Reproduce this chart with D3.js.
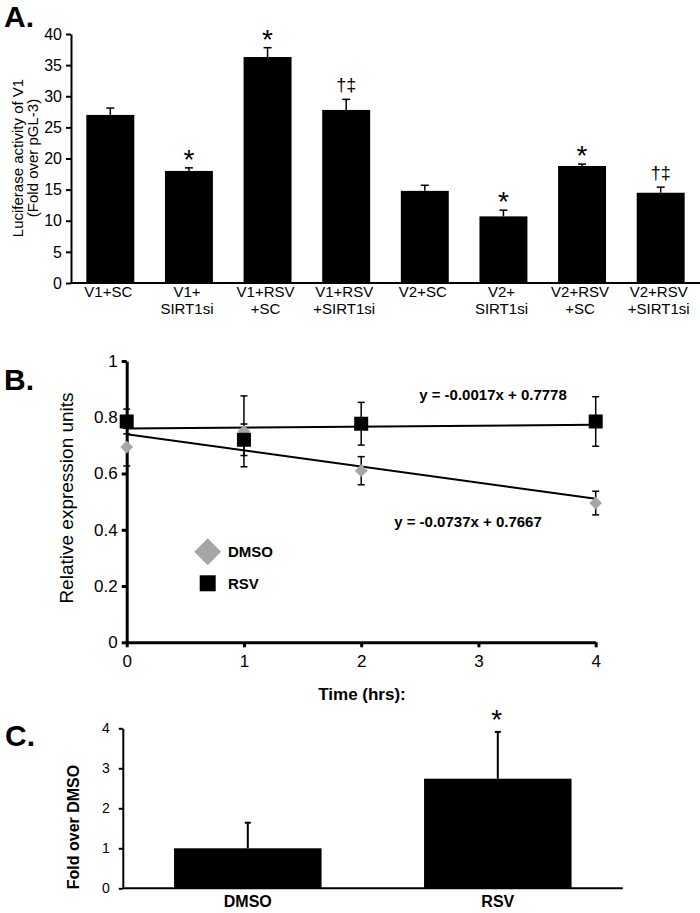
<!DOCTYPE html>
<html><head><meta charset="utf-8">
<script src="https://cdn.jsdelivr.net/npm/d3@7/dist/d3.min.js"></script>
<style>body{margin:0;background:#fff}svg{display:block}text{font-family:"Liberation Sans",Arial,sans-serif;fill:#000}</style>
</head><body><svg id="c" width="700" height="913"></svg>
<script>
// ---- Panel A data ----
const labelsA = [["V1+SC"],["V1+","SIRT1si"],["V1+RSV","+SC"],["V1+RSV","+SIRT1si"],["V2+SC"],["V2+","SIRT1si"],["V2+RSV","+SC"],["V2+RSV","+SIRT1si"]];
const valuesA = [27.0, 18.0, 36.3, 27.8, 14.8, 10.7, 18.8, 14.5];
const errorsA = [1.1, 0.5, 1.5, 1.7, 0.9, 1.0, 0.3, 0.9];
const marksA = ["", "*", "*", "\u2020\u2021", "", "*", "*", "\u2020\u2021"];
const ticksA = [0,5,10,15,20,25,30,35,40];
// ---- Panel B data ----
const timesB = [0,1,2,4];
const dmsoB = [0.694, 0.75, 0.61, 0.495];
const dmsoErrB = [0.067, 0.126, 0.05, 0.042];
const rsvB = [0.785, 0.72, 0.777, 0.785];
const rsvErrB = [0.044, 0.056, 0.076, 0.088];
const dmsoTrend = [0.74, 0.51];
const rsvTrend = [0.76, 0.773];
const trendX = [0, 4];
const eqRSV = "y = -0.0017x + 0.7778";
const eqDMSO = "y = -0.0737x + 0.7667";
const ticksBy = [0,0.2,0.4,0.6,0.8,1];
const ticksBx = [0,1,2,3,4];
// ---- Panel C data ----
const catsC = ["DMSO","RSV"];
const valuesC = [1.0, 2.74];
const errorsC = [0.64, 1.17];
const marksC = ["", "*"];
const ticksC = [0,1,2,3,4];

const svg = d3.select("#c");
svg.append("rect").attr("width",700).attr("height",913).attr("fill","#fff");
const grey = "#a6a6a6";

function styleAxis(g, w){
  g.selectAll("path.domain").attr("stroke","#000").attr("stroke-width",w);
  g.selectAll(".tick line").attr("stroke","#000").attr("stroke-width",w);
}

// ================= Panel A =================
{
  const x = d3.scaleBand().domain(d3.range(labelsA.length)).range([71,700]).paddingInner(0.39).paddingOuter(0.195);
  const y = d3.scaleLinear().domain([0,40]).range([283,34]);
  const g = svg.append("g");
  g.append("text").attr("x",4).attr("y",27).attr("font-size",30).attr("font-weight","bold").text("A.");
  g.selectAll("rect.bar").data(valuesA).join("rect")
    .attr("x",(d,i)=>x(i)).attr("width",x.bandwidth())
    .attr("y",d=>y(d)).attr("height",d=>y(0)-y(d)).attr("fill","#000");
  valuesA.forEach((v,i)=>{
    const cx = x(i)+x.bandwidth()/2;
    g.append("line").attr("x1",cx).attr("x2",cx).attr("y1",y(v)).attr("y2",y(v+errorsA[i])).attr("stroke","#000").attr("stroke-width",1.5);
    g.append("line").attr("x1",cx-4).attr("x2",cx+4).attr("y1",y(v+errorsA[i])).attr("y2",y(v+errorsA[i])).attr("stroke","#000").attr("stroke-width",1.5);
    if(marksA[i]==="*"){
      g.append("text").attr("x",cx).attr("y",y(v+errorsA[i])+1).attr("text-anchor","middle").attr("font-size",28).text("*");
    } else if(marksA[i]){
      g.append("text").attr("x",cx).attr("y",y(v+errorsA[i])-8).attr("text-anchor","middle").attr("font-size",18).text(marksA[i]);
    }
  });
  const ya = g.append("g").attr("transform","translate(71,0)")
    .call(d3.axisLeft(y).tickValues(ticksA).tickSize(5).tickSizeOuter(0).tickFormat(d3.format("d")));
  styleAxis(ya,2);
  ya.selectAll("text").attr("font-size",16).attr("font-family","Liberation Sans, Arial, sans-serif").attr("dx",-1);
  g.append("line").attr("x1",71).attr("x2",700).attr("y1",283).attr("y2",283).attr("stroke","#000").attr("stroke-width",2);
  labelsA.forEach((ls,i)=>{
    const cx = x(i)+x.bandwidth()/2;
    ls.forEach((l,j)=>{
      g.append("text").attr("x",cx-2).attr("y",297+j*17).attr("text-anchor","middle").attr("font-size",15).text(l);
    });
  });
  const yl = g.append("text").attr("transform","translate(0,158) rotate(-90)").attr("text-anchor","middle").attr("font-size",15);
  yl.append("tspan").attr("x",0).attr("y",23).text("Luciferase activity of V1");
  yl.append("tspan").attr("x",0).attr("y",38).text("(Fold over pGL-3)");
}

// ================= Panel B =================
{
  const x = d3.scaleLinear().domain([0,4]).range([126.7,595.7]);
  const y = d3.scaleLinear().domain([0,1]).range([642.3,361]);
  const g = svg.append("g");
  g.append("text").attr("x",4).attr("y",390).attr("font-size",30).attr("font-weight","bold").text("B.");
  const ya = g.append("g").attr("transform","translate(126.7,0)")
    .call(d3.axisLeft(y).tickValues(ticksBy).tickSize(5).tickSizeOuter(0).tickFormat(d=>d3.format("")(d)));
  styleAxis(ya,3);
  ya.selectAll("text").attr("font-size",17).attr("font-family","Liberation Sans, Arial, sans-serif").attr("dx",-1);
  const xa = g.append("g").attr("transform","translate(0,642.3)")
    .call(d3.axisBottom(x).tickValues(ticksBx).tickSize(5).tickSizeOuter(0).tickFormat(d3.format("d")));
  styleAxis(xa,3);
  xa.selectAll("text").attr("font-size",17).attr("font-family","Liberation Sans, Arial, sans-serif").attr("dy","1em");
  g.append("text").attr("x",362).attr("y",700).attr("text-anchor","middle").attr("font-size",17).attr("font-weight","bold").text("Time (hrs):");
  g.append("text").attr("transform","translate(73,498) rotate(-90)").attr("text-anchor","middle").attr("font-size",19).text("Relative expression units");
  const line = d3.line().x(d=>x(d[0])).y(d=>y(d[1]));
  g.append("path").attr("d",line(trendX.map((t,i)=>[t,rsvTrend[i]]))).attr("stroke","#000").attr("stroke-width",2).attr("fill","none");
  g.append("path").attr("d",line(trendX.map((t,i)=>[t,dmsoTrend[i]]))).attr("stroke","#000").attr("stroke-width",2).attr("fill","none");
  function errBar(t,v,e){
    const cx = x(t);
    g.append("line").attr("x1",cx).attr("x2",cx).attr("y1",y(v-e)).attr("y2",y(v+e)).attr("stroke","#000").attr("stroke-width",1.5);
    [v-e,v+e].forEach(yy=>g.append("line").attr("x1",cx-3.5).attr("x2",cx+3.5).attr("y1",y(yy)).attr("y2",y(yy)).attr("stroke","#000").attr("stroke-width",1.5));
  }
  timesB.forEach((t,i)=>{ errBar(t,dmsoB[i],dmsoErrB[i]); });
  timesB.forEach((t,i)=>{ errBar(t,rsvB[i],rsvErrB[i]); });
  const diamond = d3.symbol().type(d3.symbolSquare).size(81);
  g.selectAll("path.dm").data(timesB).join("path").attr("class","dm")
    .attr("transform",(d,i)=>`translate(${x(d)},${y(dmsoB[i])}) rotate(45)`)
    .attr("d",diamond()).attr("fill",grey);
  g.selectAll("rect.rs").data(timesB).join("rect").attr("class","rs")
    .attr("x",d=>x(d)-7).attr("y",(d,i)=>y(rsvB[i])-7).attr("width",14).attr("height",14).attr("fill","#000");
  g.append("text").attr("x",493).attr("y",400).attr("text-anchor","middle").attr("font-size",15).attr("font-weight","bold").text(eqRSV);
  g.append("text").attr("x",468).attr("y",527).attr("text-anchor","middle").attr("font-size",15).attr("font-weight","bold").text(eqDMSO);
  g.append("path").attr("transform","translate(207.7,551.7) rotate(45)").attr("d",d3.symbol().type(d3.symbolSquare).size(361)()).attr("fill",grey);
  g.append("rect").attr("x",199.7).attr("y",575.3).attr("width",16).attr("height",16).attr("fill","#000");
  g.append("text").attr("x",228).attr("y",557).attr("font-size",15).attr("font-weight","bold").text("DMSO");
  g.append("text").attr("x",228).attr("y",589).attr("font-size",15).attr("font-weight","bold").text("RSV");
}

// ================= Panel C =================
{
  const x = d3.scaleBand().domain(catsC).range([122.8,622.8]).paddingInner(0.41).paddingOuter(0.205);
  const y = d3.scaleLinear().domain([0,4]).range([888.3,728.3]);
  const g = svg.append("g");
  g.append("text").attr("x",5).attr("y",746).attr("font-size",30).attr("font-weight","bold").text("C.");
  g.selectAll("rect.bar").data(valuesC).join("rect")
    .attr("x",(d,i)=>x(catsC[i])).attr("width",x.bandwidth())
    .attr("y",d=>y(d)).attr("height",d=>y(0)-y(d)).attr("fill","#000");
  valuesC.forEach((v,i)=>{
    const cx = x(catsC[i])+x.bandwidth()/2;
    g.append("line").attr("x1",cx).attr("x2",cx).attr("y1",y(v)).attr("y2",y(v+errorsC[i])).attr("stroke","#000").attr("stroke-width",2);
    g.append("line").attr("x1",cx-3).attr("x2",cx+3).attr("y1",y(v+errorsC[i])).attr("y2",y(v+errorsC[i])).attr("stroke","#000").attr("stroke-width",2);
    if(marksC[i]) g.append("text").attr("x",cx-1).attr("y",y(v+errorsC[i])-3).attr("text-anchor","middle").attr("font-size",28).text(marksC[i]);
  });
  const ya = g.append("g").attr("transform","translate(122.8,0)")
    .call(d3.axisLeft(y).tickValues(ticksC).tickSize(4).tickSizeOuter(0).tickFormat(d3.format("d")));
  styleAxis(ya,2);
  ya.selectAll("text").attr("font-size",14).attr("font-family","Liberation Sans, Arial, sans-serif").attr("dx",-6);
  g.append("line").attr("x1",122.8).attr("x2",622.8).attr("y1",888.3).attr("y2",888.3).attr("stroke","#000").attr("stroke-width",2);
  catsC.forEach(c=>{
    g.append("text").attr("x",x(c)+x.bandwidth()/2).attr("y",907).attr("text-anchor","middle").attr("font-size",16).attr("font-weight","bold").text(c);
  });
  g.append("text").attr("transform","translate(79,827) rotate(-90)").attr("text-anchor","middle").attr("font-size",16).attr("font-weight","bold").text("Fold over DMSO");
}
</script></body></html>
